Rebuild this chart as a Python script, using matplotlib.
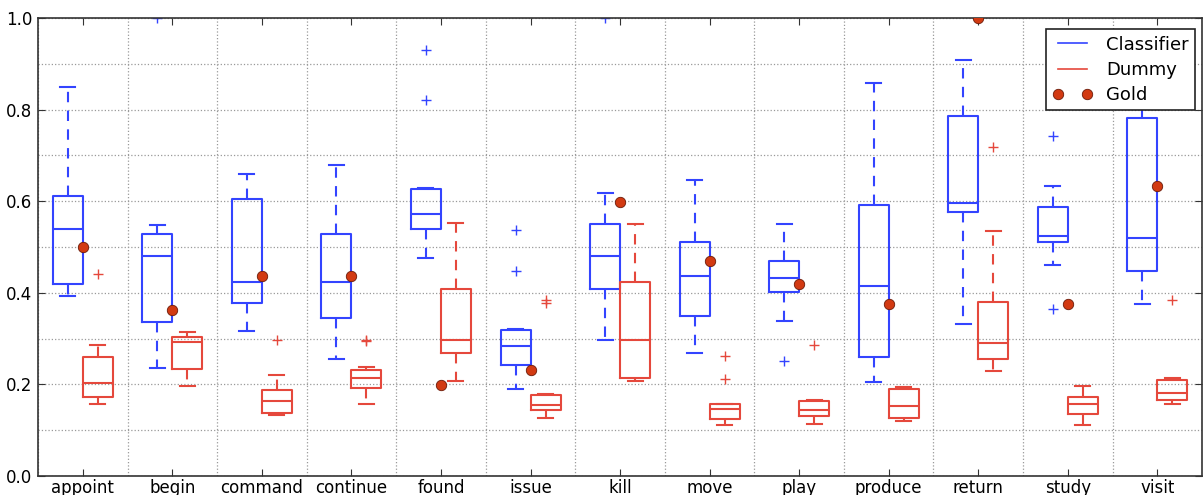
import numpy as np
import matplotlib
matplotlib.use('Agg')
import matplotlib.pyplot as plt
from matplotlib.ticker import FixedLocator

# 动词类别
verbs = ['appoint', 'begin', 'command', 'continue', 'found', 'issue', 'kill',
         'move', 'play', 'produce', 'return', 'study', 'visit']

# Classifier 箱线图统计量
cls_whislo = [0.392, 0.235, 0.317, 0.255, 0.476, 0.189, 0.298, 0.269, 0.338, 0.205, 0.332, 0.460, 0.375]
cls_q1 = [0.419, 0.336, 0.378, 0.346, 0.539, 0.242, 0.408, 0.349, 0.401, 0.260, 0.576, 0.511, 0.448]
cls_med = [0.539, 0.480, 0.424, 0.423, 0.571, 0.283, 0.480, 0.437, 0.432, 0.414, 0.595, 0.525, 0.520]
cls_q3 = [0.612, 0.528, 0.604, 0.528, 0.626, 0.318, 0.550, 0.511, 0.470, 0.591, 0.786, 0.588, 0.781]
cls_whishi = [0.850, 0.547, 0.659, 0.678, 0.628, 0.321, 0.617, 0.646, 0.550, 0.858, 0.908, 0.634, 0.810]
cls_fliers = [[], [1.0], [], [], [0.930, 0.821], [0.537, 0.448], [1.0],
              [], [0.250], [], [], [0.742, 0.364], []]

# Dummy 箱线图统计量
dum_whislo = [0.157, 0.197, 0.133, 0.158, 0.207, 0.127, 0.207, 0.111, 0.114, 0.119, 0.230, 0.111, 0.158]
dum_q1 = [0.172, 0.233, 0.138, 0.193, 0.269, 0.144, 0.213, 0.125, 0.131, 0.126, 0.255, 0.136, 0.167]
dum_med = [0.202, 0.293, 0.164, 0.215, 0.297, 0.154, 0.298, 0.146, 0.144, 0.152, 0.290, 0.158, 0.181]
dum_q3 = [0.259, 0.303, 0.188, 0.232, 0.409, 0.177, 0.423, 0.157, 0.164, 0.189, 0.380, 0.172, 0.209]
dum_whishi = [0.285, 0.314, 0.221, 0.237, 0.552, 0.178, 0.550, 0.158, 0.167, 0.195, 0.536, 0.197, 0.213]
dum_fliers = [[0.440], [], [0.298], [0.298, 0.295], [], [0.384, 0.377], [],
              [0.262, 0.211], [0.285], [], [0.718], [], [0.384]]

# Gold 标准值
gold = [0.500, 0.362, 0.437, 0.437, 0.199, 0.231, 0.599, 0.470, 0.420, 0.375, 1.0, 0.375, 0.634]

yticks = [0.0, 0.2, 0.4, 0.6, 0.8, 1.0]

BLUE = '#3344ff'
RED = '#e5483c'
GOLD = '#d23a12'


def make_stats(whislo, q1, med, q3, whishi, fliers):
    stats = []
    for i in range(len(med)):
        stats.append({'whislo': whislo[i], 'q1': q1[i], 'med': med[i],
                      'q3': q3[i], 'whishi': whishi[i], 'fliers': fliers[i]})
    return stats


def draw_boxes(ax, stats, positions, color, width):
    ax.bxp(stats, positions=positions, widths=width, showfliers=True,
           boxprops=dict(color=color, linewidth=1.5),
           medianprops=dict(color=color, linewidth=1.5),
           whiskerprops=dict(color=color, linewidth=1.5, linestyle='--', dashes=(5, 4)),
           capprops=dict(color=color, linewidth=1.5),
           flierprops=dict(marker='+', markeredgecolor=color, markersize=7,
                           markeredgewidth=1.0, linestyle='none'),
           manage_ticks=False)


fig = plt.figure(figsize=(12.04, 4.95), dpi=100)
ax = fig.add_axes([0.0316, 0.0384, 0.9668, 0.9252])

x = np.arange(1, len(verbs) + 1)
w = 0.335
draw_boxes(ax, make_stats(cls_whislo, cls_q1, cls_med, cls_q3, cls_whishi, cls_fliers),
           x - w / 2, BLUE, w)
draw_boxes(ax, make_stats(dum_whislo, dum_q1, dum_med, dum_q3, dum_whishi, dum_fliers),
           x + w / 2, RED, w)
ax.plot(x, gold, 'o', color=GOLD, markeredgecolor='#6a1a08',
        markeredgewidth=0.6, markersize=7.5, zorder=5)

ax.set_xlim(0.5, len(verbs) + 0.5)
ax.set_ylim(0, 1.0)
ax.set_xticks(x)
ax.set_xticklabels(verbs, fontsize=12)
ax.xaxis.set_minor_locator(FixedLocator(np.arange(0.5, len(verbs) + 1, 1.0)))
ax.set_yticks(yticks)
ax.set_yticks(np.arange(0.1, 1.0, 0.2), minor=True)
ax.set_yticklabels(['%.1f' % v for v in yticks], fontsize=12)
ax.tick_params(which='major', direction='in', length=5, top=True, right=True,
               color='#333333')
ax.tick_params(axis='x', which='major', pad=2)
ax.tick_params(axis='y', which='major', pad=4)
ax.tick_params(which='minor', length=0, top=True, right=True)
ax.grid(axis='x', which='minor', linestyle=':', color='#999999', linewidth=0.9)
ax.grid(axis='y', which='both', linestyle=':', color='#999999', linewidth=0.9)
ax.set_axisbelow(True)
for sp in ax.spines.values():
    sp.set_color('#333333')
    sp.set_linewidth(1.2)

# 图例
ax.plot([], [], '-', color=BLUE, linewidth=1.2, label='Classifier')
ax.plot([], [], '-', color=RED, linewidth=1.2, label='Dummy')
ax.plot([], [], 'o', color=GOLD, markeredgecolor='#6a1a08',
        markeredgewidth=0.6, markersize=7.5, label='Gold')
leg = ax.legend(loc='upper right', fontsize=13, numpoints=2, fancybox=False,
                framealpha=1, borderpad=0.35, handlelength=2.2, labelspacing=0.4,
                bbox_to_anchor=(1.002, 0.995))
leg.get_frame().set_edgecolor('#222222')
leg.get_frame().set_linewidth(1.2)

plt.savefig('out.png', dpi=100)
